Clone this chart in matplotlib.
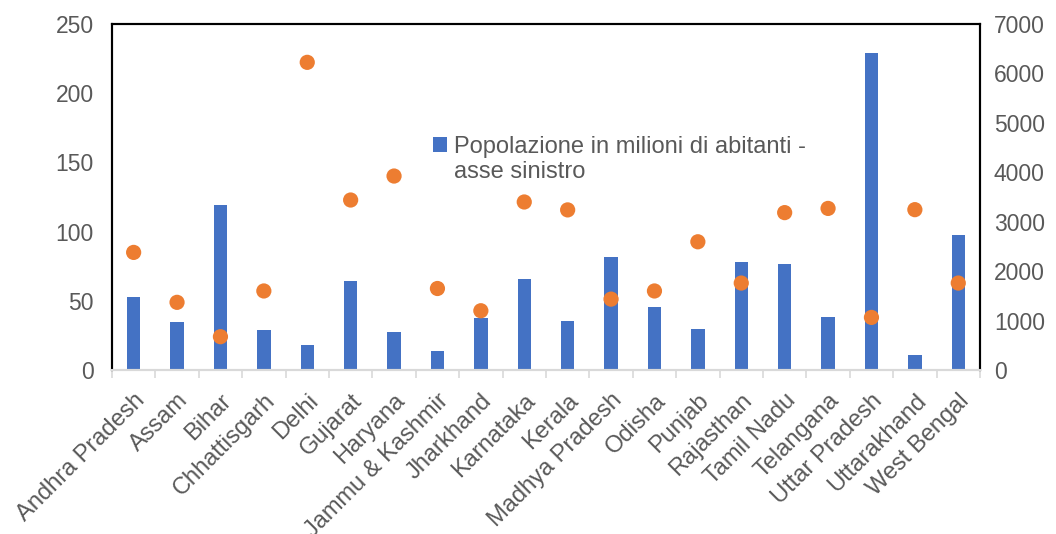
import matplotlib.pyplot as plt
import numpy as np
from matplotlib.patches import Rectangle
from matplotlib.legend_handler import HandlerPatch

plt.rcParams['font.family'] = ['Liberation Sans', 'DejaVu Sans']

states = ['Andhra Pradesh', 'Assam', 'Bihar', 'Chhattisgarh', 'Delhi', 'Gujarat',
          'Haryana', 'Jammu & Kashmir', 'Jharkhand', 'Karnataka', 'Kerala',
          'Madhya Pradesh', 'Odisha', 'Punjab', 'Rajasthan', 'Tamil Nadu',
          'Telangana', 'Uttar Pradesh', 'Uttarakhand', 'West Bengal']
# population, millions (left axis)
popolazione = [53, 35, 119, 29, 18, 64, 27.5, 13.5, 37.5, 66, 35.5, 82, 45.5, 29.5,
               78, 76.5, 38.5, 229, 11, 97.5]
# right axis series (dots)
valori_dx = [2380, 1370, 675, 1600, 6225, 3440, 3925, 1650, 1200, 3400, 3240, 1435,
             1600, 2595, 1760, 3185, 3270, 1065, 3245, 1760]

grey = '#595959'
x = np.arange(len(states))


def first_line_square(legend, orig_handle, xdescent, ydescent, width, height, fontsize):
    # put the legend square next to the first line of a two-line label
    return Rectangle((-xdescent, -ydescent + 0.65 * fontsize), width, height)


fig = plt.figure(figsize=(10.56, 5.34), dpi=100)
ax = fig.add_axes([0.106, 0.307, 0.822, 0.648])
ax2 = ax.twinx()

bars = ax.bar(x, popolazione, width=0.31, color='#4472C4', zorder=2,
              label='Popolazione in milioni di abitanti -\nasse sinistro')
ax2.scatter(x, valori_dx, s=120, color='#ED7D31', zorder=3, edgecolors='none')

ax.set_xlim(-0.5, len(states) - 0.5)
ax.set_ylim(0, 250)
ax2.set_ylim(0, 7000)
ax.set_yticks(range(0, 251, 50))
ax2.set_yticks(range(0, 7001, 1000))

for a in (ax, ax2):
    for s in ('left', 'right', 'top'):
        a.spines[s].set_color('black')
        a.spines[s].set_linewidth(1.5)
    a.spines['bottom'].set_color('#D9D9D9')
    a.spines['bottom'].set_linewidth(1.5)
    a.tick_params(axis='y', length=0, labelsize=16.5, labelcolor=grey)

ax.tick_params(axis='y', pad=13)
ax2.tick_params(axis='y', pad=10)

# category labels at centers, tick marks at boundaries
ax.set_xticks(x)
ax.set_xticklabels(states, rotation=45, ha='right', rotation_mode='anchor',
                   fontsize=17, color=grey)
ax.tick_params(axis='x', which='major', length=0, pad=14)
ax.set_xticks(np.arange(-0.5, len(states), 1), minor=True)
ax.tick_params(axis='x', which='minor', length=6, width=1.2, color='#D9D9D9')

fig.legend(handles=[bars[0]], labels=[bars.get_label()], loc='upper left',
           bbox_to_anchor=(0.39, 0.785), frameon=False, fontsize=17,
           labelcolor=grey, handlelength=0.6, handleheight=0.6,
           handletextpad=0.3,
           handler_map={Rectangle: HandlerPatch(patch_func=first_line_square)})

plt.savefig('out.png', dpi=100)
